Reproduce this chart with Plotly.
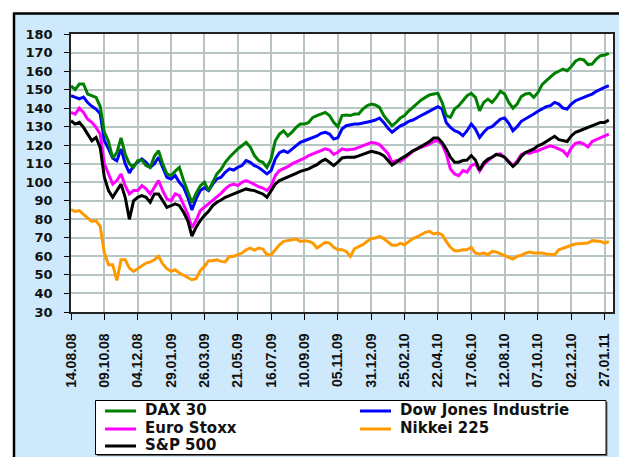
import pandas as pd
import plotly.graph_objects as go

# ============================================================
# Data (weekly readings, indexed to 100)
# ============================================================
start_date = "2008-08-14"
n_weeks = 130

dax = [152, 150, 153, 153, 147.6, 146.7, 145.8, 141, 127, 122,
       113, 116, 124, 115, 110, 108, 111.7, 112, 109, 108,
       114, 117, 110, 104.5, 103.6, 106, 108, 101, 95.5, 89,
       94, 98, 100, 95.5, 100, 104.5, 107, 110.8, 113.5, 116,
       118, 119.7, 121.5, 119, 114.4, 111.7, 110.8, 108, 112.6, 122.4,
       126, 127.8, 125, 127, 129.6, 131.4, 131.4, 132.3, 135, 136,
       136.8, 137.7, 136, 132.3, 130, 136, 136.3, 136, 136.8, 136.8,
       139.5, 141.3, 142.2, 141.7, 140.4, 136, 133.2, 130.5, 132.3, 134.7,
       136, 138.6, 140.4, 142.6, 144.4, 145.8, 147.1, 147.6, 148, 143.1,
       136, 135, 139.5, 141.3, 144, 146.7, 148, 145.8, 138.6, 143.1,
       144.9, 143.1, 145.8, 149.1, 147.6, 143.1, 140, 142.2, 146.2, 147.6,
       148, 145.8, 148.5, 152.7, 154.8, 157, 158.8, 159.9, 161.1, 160.2,
       162.4, 165.3, 166.5, 166, 163.5, 163.8, 166.5, 168.3, 168.7, 169.6]

dow = [146.7, 145.8, 145, 146, 143, 141, 139.5, 137, 122.4, 118,
       113, 111.6, 118, 110, 105, 109, 110.8, 112.6, 110.8, 108,
       110, 113.5, 108, 102.7, 101.8, 103.6, 100, 97.3, 92, 85,
       91, 95.5, 97, 95.5, 99, 101.8, 102.7, 105.4, 107.2, 106.6,
       108, 109, 111.7, 110.8, 109, 108, 106.3, 104.5, 106.3, 112.6,
       116, 117, 116, 118, 119.7, 121.5, 122.4, 123.3, 124.2, 125,
       126.4, 127, 126, 123.3, 124, 128.7, 130.5, 131, 131.4, 131.4,
       131.8, 132.3, 132.9, 133.6, 134.7, 132.3, 129.3, 127, 128.7, 130.5,
       131.4, 132.9, 133.6, 135, 136, 137.2, 138.3, 139.5, 140.8, 139.5,
       132.3, 129.6, 127.8, 127, 125.1, 127.8, 131.4, 128.7, 124.2, 127,
       129.3, 130, 131.8, 134.1, 134.7, 131.8, 127.8, 130, 132.9, 134.1,
       135.4, 136.8, 138.3, 139.5, 140.8, 141.3, 143.1, 142.2, 140, 139.5,
       142.2, 144, 144.7, 145.8, 146.7, 147.6, 149.1, 150.3, 151.2, 152.1]

euro_stoxx = [137.7, 136.8, 140, 137.7, 134, 132.3, 129.6, 126, 110, 104.5,
              99, 100.9, 104.5, 98.2, 93.7, 95.5, 95.5, 98.2, 96.4, 93.7,
              97.3, 100.9, 95.5, 91, 90, 93.7, 92.8, 88.3, 82.9, 75.5,
              79.3, 84.7, 86.5, 88.3, 90, 91.9, 94, 96.4, 98.2, 99,
              98.2, 100, 100.9, 100, 98.7, 97.6, 96.9, 95.5, 98.2, 103.6,
              106.3, 107.2, 108.4, 109.9, 110.8, 112, 113, 114.4, 115.3, 116.2,
              117.4, 118, 117.4, 115, 116.2, 118, 117.4, 117.6, 118, 118.8,
              119.7, 120.6, 121.4, 121.2, 120.3, 118, 115.6, 110.8, 111.7, 111.1,
              113, 114.9, 116.7, 118, 118.8, 119.7, 120.6, 122, 122.4, 120.6,
              115.3, 107.2, 104.5, 103.6, 106.3, 105.4, 109, 110, 106, 109.5,
              111.7, 113.5, 115, 115.3, 113.5, 111, 109, 111.5, 115, 116,
              115.5, 116.5, 117, 118, 118.8, 119.7, 119, 118.2, 117, 114.4,
              118.5, 121, 121.5, 120.6, 119, 122, 123, 124, 125.1, 126]

nikkei = [85.2, 84.3, 84.7, 82.5, 80.7, 78.9, 79.3, 76.2, 61.8, 55.5,
          55.5, 47, 58.2, 58.2, 53.7, 51.9, 53.4, 54.6, 56.4, 57,
          58.2, 60, 55.9, 53.4, 51.9, 52.8, 51, 49.8, 48.7, 47.4,
          48, 52.3, 54.6, 57.7, 57.7, 58.2, 57.3, 57, 60, 60,
          60.9, 61.8, 63.6, 64.5, 63.4, 64.5, 64, 60.9, 60.9, 63.6,
          66.3, 68.1, 68.5, 69, 69.4, 68.1, 68.5, 68.1, 67.2, 64.5,
          66, 67.6, 67.2, 64.9, 63.6, 63.6, 62.7, 60, 64.2, 65.4,
          66.3, 68.1, 69.6, 69.9, 70.8, 69.6, 67.6, 66, 66, 67,
          66.3, 68.1, 69.6, 70.5, 71.7, 73, 73.5, 72.1, 72.6, 71.7,
          68.1, 64.9, 63.1, 63.1, 63.6, 63.6, 64.9, 61.8, 61.3, 61.8,
          60.9, 62.7, 62.4, 61.3, 60.6, 59.5, 58.6, 60, 60.6, 61.8,
          62.4, 61.8, 61.8, 61.8, 61.3, 60.9, 60.9, 63.6, 64.5, 65.2,
          66, 66.7, 66.9, 67.2, 67.2, 68.5, 68.5, 68.1, 67.2, 68.1]

sp500 = [133.2, 131.4, 132.3, 129.6, 126, 122.4, 124.2, 118.8, 102.7, 95.5,
         91.9, 95.5, 99, 91.9, 80, 90, 91.9, 92.8, 91.9, 89.2,
         93.7, 93.7, 90, 86.5, 87.4, 88.3, 87.4, 83.8, 79.3, 71,
         75.7, 79.3, 82, 84.3, 87.4, 89.2, 90.4, 91.9, 92.8, 93.7,
         94.6, 95.5, 96.4, 95.8, 95.5, 94.6, 93.7, 91.9, 95.5, 99,
         100.9, 101.8, 102.7, 103.6, 104.8, 105.9, 106.6, 107.2, 108.4, 109.5,
         111.3, 112.4, 110.8, 109, 110.8, 113.1, 113.5, 113.5, 113.5, 114.2,
         114.9, 115.6, 116.7, 116.2, 115.6, 114.4, 112, 109.3, 110.8, 112.6,
         113.8, 115.3, 117, 118, 119.2, 120.6, 122, 123.9, 123.9, 121.5,
         118, 113.5, 110.8, 110.8, 111.7, 112, 114.4, 112, 106.5, 110.5,
         112.5, 113.5, 115, 114.5, 113.5, 111, 108.5, 110.5, 114, 116,
         117, 118, 119.7, 120.6, 122, 123.5, 124.8, 123, 122.4, 122,
         125, 127, 127.8, 128.7, 129.6, 130.5, 131.5, 132.3, 132.3, 133.6]

tick_labels = ["14.08.08", "09.10.08", "04.12.08", "29.01.09", "26.03.09",
               "21.05.09", "16.07.09", "10.09.09", "05.11.09", "31.12.09",
               "25.02.10", "22.04.10", "17.06.10", "12.08.10", "07.10.10",
               "02.12.10", "27.01.11"]

dates = pd.date_range(start_date, periods=n_weeks, freq="7D")
tick_dates = pd.to_datetime(tick_labels, format="%d.%m.%y")

# ============================================================
# Figure
# ============================================================
W, H = 627, 457
L, R, T, B = 63, 22, 26, 153
PW, PH = W - L - R, H - T - B

def px_x(x):
    return (x - L) / PW

def px_y(y):
    return (H - B - y) / PH

series = [
    ("DAX 30", dax, "#008000"),
    ("Dow Jones Industrie", dow, "#0000FF"),
    ("Euro Stoxx", euro_stoxx, "#FF00FF"),
    ("Nikkei 225", nikkei, "#FF9900"),
    ("S&P 500", sp500, "#000000"),
]

fig = go.Figure()
draw_order = [3, 2, 4, 1, 0]   # orange, magenta, black, blue, green on top
for i in draw_order:
    name, vals, col = series[i]
    fig.add_trace(go.Scatter(
        x=dates, y=vals, name=name, mode="lines",
        line=dict(color=col, width=3), showlegend=False
    ))

font_y = dict(family="DejaVu Sans", size=13, color="#111111")
font_x = dict(family="Liberation Sans, Arial", size=14, color="#111111")

fig.update_xaxes(
    range=[pd.Timestamp("2008-08-14"), pd.Timestamp("2011-02-10")],
    tickmode="array", tickvals=tick_dates, ticktext=[f"<b>{t}</b>" for t in tick_labels],
    tickangle=-90, tickfont=font_x, ticks="outside", ticklen=6, tickcolor="#000",
    showgrid=True, gridcolor="#b7c6c4", gridwidth=1.5,
    showline=True, linecolor="#222", linewidth=1.5, mirror=True,
    ticklabelstandoff=8,
)
fig.update_yaxes(
    range=[30, 180], tickmode="linear", tick0=30, dtick=10,
    tickfont=font_y, ticks="outside", ticklen=5, tickcolor="#000",
    tickprefix="<b>", ticksuffix="</b>",
    showgrid=True, gridcolor="#b7c6c4", gridwidth=1.5,
    showline=True, linecolor="#222", linewidth=1.5, mirror=True,
    ticklabelstandoff=9,
)

shapes = [
    # white strips outside the frame
    dict(type="rect", xref="paper", yref="paper", x0=px_x(0), x1=px_x(W), y0=px_y(0), y1=px_y(5),
         fillcolor="white", line_width=0, layer="above"),
    dict(type="rect", xref="paper", yref="paper", x0=px_x(0), x1=px_x(5), y0=px_y(0), y1=px_y(H),
         fillcolor="white", line_width=0, layer="above"),
    # black frame
    dict(type="line", xref="paper", yref="paper", x0=px_x(5), x1=px_x(W), y0=px_y(5.5), y1=px_y(5.5),
         line=dict(color="black", width=2.5), layer="above"),
    dict(type="line", xref="paper", yref="paper", x0=px_x(6), x1=px_x(6), y0=px_y(5), y1=px_y(456),
         line=dict(color="black", width=2.5), layer="above"),
    dict(type="line", xref="paper", yref="paper", x0=px_x(5), x1=px_x(310), y0=px_y(455.5), y1=px_y(455.5),
         line=dict(color="black", width=2), layer="above"),
    # legend box (with a faint shadow)
    dict(type="rect", xref="paper", yref="paper", x0=px_x(89), x1=px_x(599.5), y0=px_y(448), y1=px_y(394),
         fillcolor="#6a6a6a", line_width=0, layer="above"),
    dict(type="rect", xref="paper", yref="paper", x0=px_x(87.5), x1=px_x(598), y0=px_y(446.5), y1=px_y(392.5),
         fillcolor="white", line=dict(color="black", width=1), layer="above"),
]

# legend entries: (series index, symbol x0, text x, row centre y)
legend_slots = [(0, 97, 135, 402), (1, 352, 390, 402),
                (2, 97, 135, 420), (3, 352, 390, 420),
                (4, 97, 135, 437)]
annotations = []
for idx, sx, tx, ty in legend_slots:
    name, _, col = series[idx]
    shapes.append(dict(type="line", xref="paper", yref="paper",
                       x0=px_x(sx), x1=px_x(sx + 31), y0=px_y(ty + 1), y1=px_y(ty + 1),
                       line=dict(color=col, width=3), layer="above"))
    annotations.append(dict(xref="paper", yref="paper", x=px_x(tx), y=px_y(ty),
                            xanchor="left", yanchor="middle", showarrow=False,
                            text=f"<b>{name}</b>",
                            font=dict(family="DejaVu Sans", size=15, color="#111111")))

fig.update_layout(
    width=W, height=H,
    margin=dict(l=L, r=R, t=T, b=B, autoexpand=False),
    paper_bgcolor="#cde9fb",
    plot_bgcolor="white",
    showlegend=False,
    shapes=shapes,
    annotations=annotations,
)

fig.write_html("out.html")
